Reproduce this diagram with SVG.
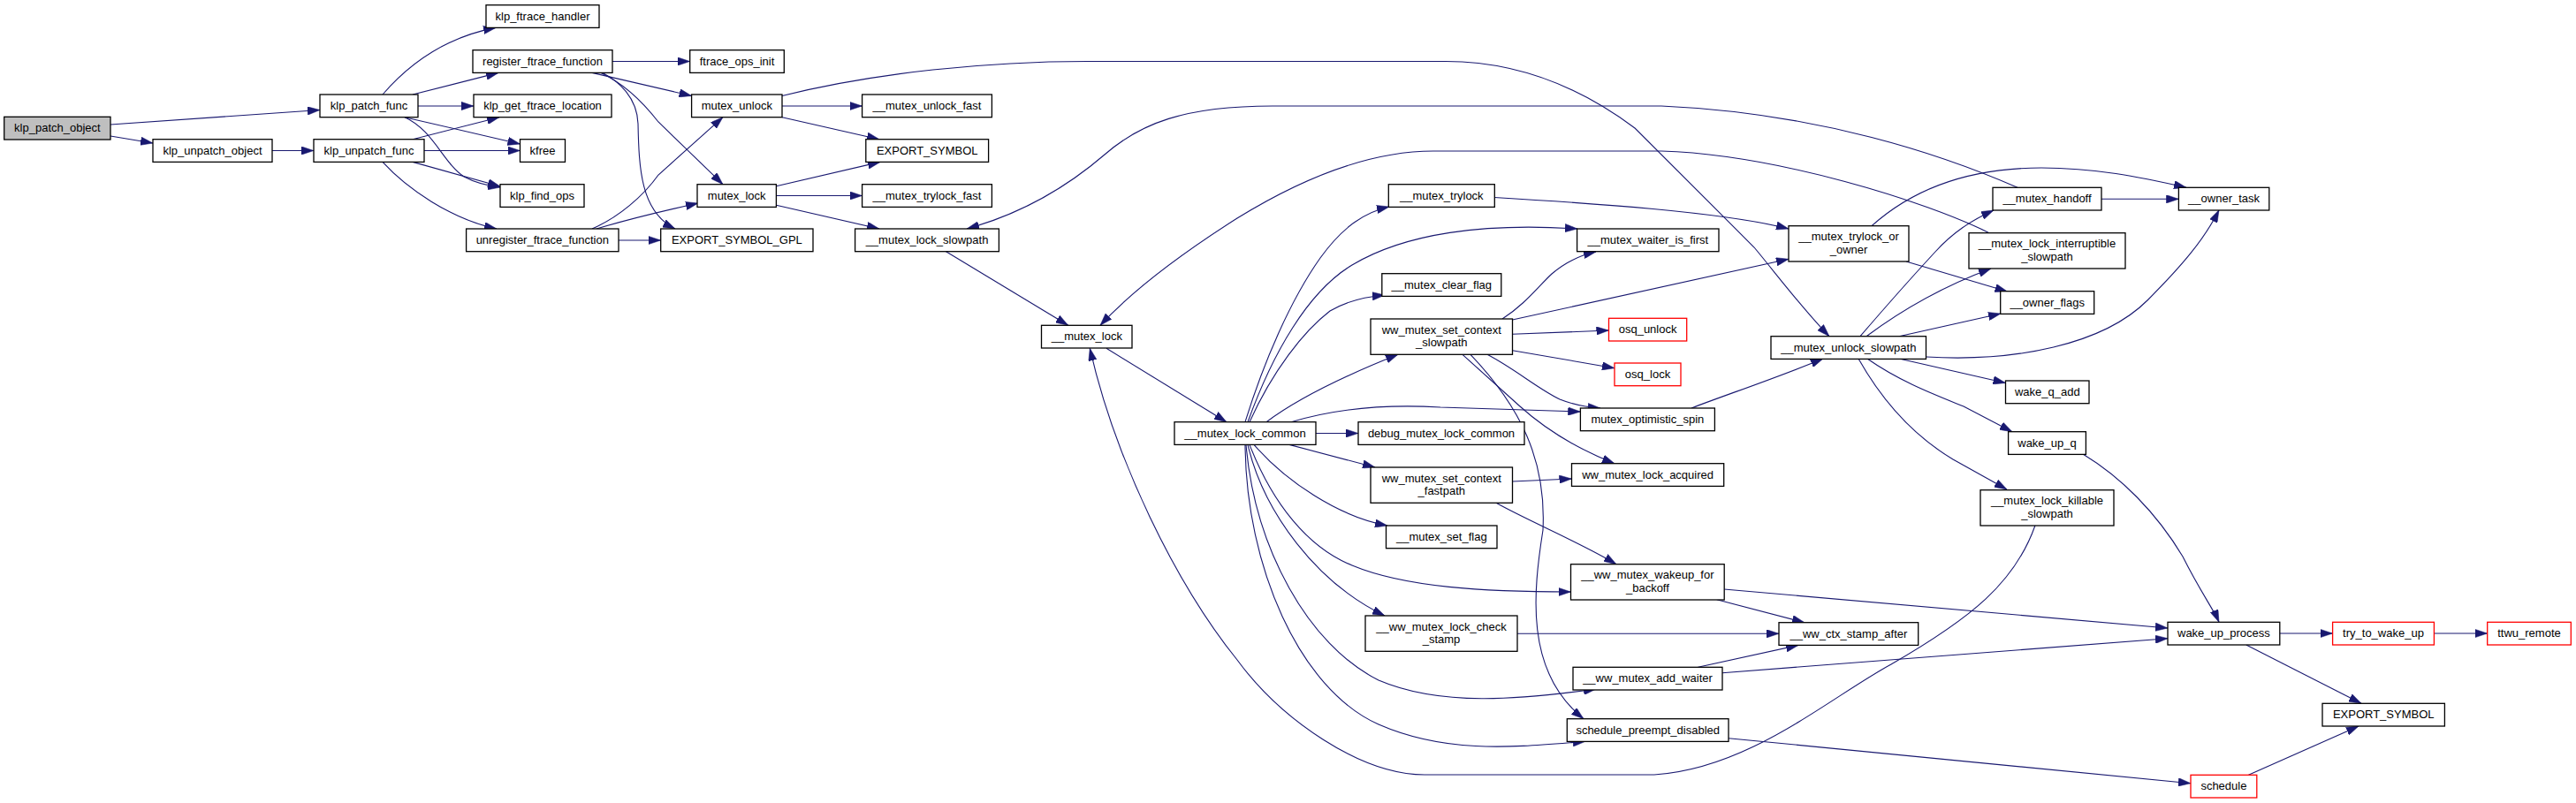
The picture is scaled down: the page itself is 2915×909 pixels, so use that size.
<svg xmlns="http://www.w3.org/2000/svg" width="2915" height="909" viewBox="0 0 2915 909">
<style>
.n rect{fill:#fff;stroke:#000;stroke-width:1.3}
.n.root rect{fill:#bfbfbf}
.n.red rect{stroke:#ff0000}
.n text{font-family:"Liberation Sans",Arial,Helvetica,sans-serif;font-size:13px;text-anchor:middle;fill:#000}
.e path{fill:none;stroke:#191970;stroke-width:1.1;marker-end:url(#ah)}
</style>
<defs>
<marker id="ah" viewBox="0 0 14 9.4" markerUnits="userSpaceOnUse" markerWidth="14" markerHeight="9.4" refX="14" refY="4.7" orient="auto">
<path d="M0,0 L14,4.7 L0,9.4 z" fill="#191970" stroke="#191970" stroke-width="0.5"/>
</marker>
</defs>
<rect width="2915" height="909" fill="#fff"/>
<g id="edges" class="e">
<path d="M125,141 L362,124.5"/>
<path d="M125,154 L173,162"/>
<path d="M308,170.5 L355,170.5"/>
<path d="M433,107 C465,70 505,42 561,31.4"/>
<path d="M467,107 L564,82.4"/>
<path d="M473,120 L536,120"/>
<path d="M458,132.7 L588.5,163"/>
<path d="M458,132.7 C490,147 502,185 525,200 C538,207 550,210 566,212"/>
<path d="M467,157.7 L565,132.7"/>
<path d="M480,170.5 L588.5,170.5"/>
<path d="M467,183.4 L566,211"/>
<path d="M433,183.4 C460,213 510,248 562,259"/>
<path d="M693,69.5 L780.7,69.5"/>
<path d="M670,82.4 L782.6,108.5"/>
<path d="M680,82.4 C705,94 728,116 745,138 L818,208.7"/>
<path d="M682,82.4 C700,92 721,110 722,140 C723,190 725,240 764,259"/>
<path d="M670,259 C700,246 728,222 745,198 L818,132.7"/>
<path d="M675,259 C705,250 745,240 790,230"/>
<path d="M700,272 L747.7,272"/>
<path d="M885,120 L975.6,120"/>
<path d="M885,132.7 L995,157.7"/>
<path d="M885,108.5 C990,82 1120,69.5 1230,69.5 L1636,69.5 C1720,69.5 1790,100 1850,145 L1985,280 C2010,310 2040,350 2070,380.7"/>
<path d="M878.4,210.7 L996,183.4"/>
<path d="M878.4,221.5 L975.6,221.5"/>
<path d="M878.4,232.3 L995,259"/>
<path d="M1070.5,284.7 L1208.7,368.3"/>
<path d="M2283,212.3 C2200,176 2060,128 1880,120 L1440,120 C1340,120 1290,140 1250,175 C1200,218 1145,245 1094,259"/>
<path d="M2251,263.7 C2180,228 2010,175 1880,171 L1622,171 C1540,171 1460,210 1400,247 C1345,282 1285,325 1245,368.3"/>
<path d="M1252,394.3 L1388,477.7"/>
<path d="M2303,594.7 C2280,660 2230,700 2140,752 C2070,790 1980,870 1872,877 L1612,877 C1540,877 1450,815 1400,747 C1330,660 1262,520 1233.3,394.3"/>
<path d="M1711.5,362 L2024,293.3"/>
<path d="M1700,361 C1725,345 1740,325 1756,310 C1772,296 1788,289 1806,285"/>
<path d="M1711.5,378.3 L1820.5,374"/>
<path d="M1711.5,396.7 L1827,416.7"/>
<path d="M1683,401.3 C1715,418 1740,440 1765,452 C1780,458 1795,461 1811,462"/>
<path d="M1655,401.3 L1720,460 C1750,487 1785,508 1827,524.7"/>
<path d="M1664,401.3 C1720,460 1750,520 1746,600 C1735,670 1725,760 1792,813.7"/>
<path d="M1914,462 C1950,448 2010,428 2063,406"/>
<path d="M1409,477.7 C1430,410 1460,340 1494,292 C1520,256 1545,240 1572,234"/>
<path d="M1412,477.7 C1440,400 1480,330 1530,300 C1590,264 1680,252 1785,259"/>
<path d="M1414,477.7 C1440,420 1475,375 1505,352 C1525,340 1545,336 1567,334"/>
<path d="M1433,477.7 C1470,450 1530,422 1582,401.3"/>
<path d="M1461,477.7 C1520,460 1580,458 1630,461 C1700,463 1750,465 1788.4,466"/>
<path d="M1489,490.5 L1537,490.5"/>
<path d="M1459,503.4 L1556,529"/>
<path d="M1419,503.4 C1455,545 1515,585 1570,595"/>
<path d="M1414,503.4 C1440,570 1480,620 1530,640 C1590,665 1680,670 1777.5,670"/>
<path d="M1412,503.4 C1430,580 1490,660 1567,697"/>
<path d="M1410,503.4 C1420,620 1480,730 1560,770 C1630,800 1720,792 1806,780"/>
<path d="M1409,503.4 C1410,640 1470,780 1560,820 C1640,855 1720,845 1794,839.3"/>
<path d="M1711.5,545 L1778.5,542"/>
<path d="M1693,569.3 C1730,590 1790,615 1829,638.7"/>
<path d="M1951,667 L2453,711"/>
<path d="M1942.7,678.7 L2042,704.7"/>
<path d="M1717,717.3 L2013,717.3"/>
<path d="M1921.5,755.3 L2035,730.4"/>
<path d="M1948.8,761.7 L2453,722.7"/>
<path d="M1956,835.7 L2479,886.7"/>
<path d="M2544.4,877.3 L2669,822"/>
<path d="M2541.8,730 L2672,796.3"/>
<path d="M2579.8,717 L2639.6,717"/>
<path d="M2754.4,717 L2814.7,717"/>
<path d="M2357,514 C2400,540 2440,580 2470,630 C2490,670 2505,690 2511,704.3"/>
<path d="M2180,404 C2280,410 2380,390 2430,340 C2470,300 2495,270 2511,237.7"/>
<path d="M2105,380.7 C2140,340 2165,312 2190,285 C2210,263 2230,250 2256,238"/>
<path d="M2112,380.7 C2160,345 2210,320 2253,304"/>
<path d="M2149,380.7 L2264,355"/>
<path d="M2149,406 L2269.5,433.5"/>
<path d="M2113,406 C2150,432 2190,447 2222,460 L2277,488.7"/>
<path d="M2103,406 C2125,445 2160,490 2210,520 L2271,554"/>
<path d="M2378,225.3 L2465.4,225.3"/>
<path d="M2118,255.7 C2160,218 2220,190 2310,190 C2370,190 2420,200 2474,212.3"/>
<path d="M2157,296 L2271.5,330"/>
<path d="M1691,223.5 C1800,230 1950,240 2024,259"/>
</g>
<g id="klp_patch_object" class="n root"><rect x="4.7" y="132.3" width="120.3" height="25.7"/><text x="64.9" y="149.4">klp_patch_object</text></g>
<g id="klp_patch_func" class="n"><rect x="362" y="107" width="111" height="25.7"/><text x="417.5" y="124.1">klp_patch_func</text></g>
<g id="klp_unpatch_object" class="n"><rect x="173" y="157.7" width="135" height="25.7"/><text x="240.5" y="174.8">klp_unpatch_object</text></g>
<g id="klp_unpatch_func" class="n"><rect x="355" y="157.7" width="125" height="25.7"/><text x="417.5" y="174.8">klp_unpatch_func</text></g>
<g id="klp_ftrace_handler" class="n"><rect x="550" y="5.7" width="128" height="25.7"/><text x="614" y="22.8">klp_ftrace_handler</text></g>
<g id="register_ftrace_function" class="n"><rect x="535" y="56.7" width="158" height="25.7"/><text x="614" y="73.8">register_ftrace_function</text></g>
<g id="klp_get_ftrace_location" class="n"><rect x="536" y="107" width="156" height="25.7"/><text x="614" y="124.1">klp_get_ftrace_location</text></g>
<g id="kfree" class="n"><rect x="588.5" y="157.7" width="51" height="25.7"/><text x="614" y="174.8">kfree</text></g>
<g id="klp_find_ops" class="n"><rect x="566" y="208.7" width="95" height="25.7"/><text x="613.5" y="225.8">klp_find_ops</text></g>
<g id="unregister_ftrace_function" class="n"><rect x="527.6" y="259" width="172.4" height="25.7"/><text x="613.8" y="276.1">unregister_ftrace_function</text></g>
<g id="ftrace_ops_init" class="n"><rect x="780.7" y="56.7" width="106.6" height="25.7"/><text x="834" y="73.8">ftrace_ops_init</text></g>
<g id="mutex_unlock" class="n"><rect x="782.6" y="107" width="102.4" height="25.7"/><text x="833.8" y="124.1">mutex_unlock</text></g>
<g id="__mutex_unlock_fast" class="n"><rect x="975.6" y="107" width="146.8" height="25.7"/><text x="1049" y="124.1">__mutex_unlock_fast</text></g>
<g id="EXPORT_SYMBOL_1" class="n"><rect x="979.8" y="157.7" width="138.8" height="25.7"/><text x="1049.2" y="174.8">EXPORT_SYMBOL</text></g>
<g id="mutex_lock" class="n"><rect x="789" y="208.7" width="89.4" height="25.7"/><text x="833.7" y="225.8">mutex_lock</text></g>
<g id="__mutex_trylock_fast" class="n"><rect x="975.6" y="208.7" width="146.8" height="25.7"/><text x="1049" y="225.8">__mutex_trylock_fast</text></g>
<g id="EXPORT_SYMBOL_GPL" class="n"><rect x="747.7" y="259" width="172.3" height="25.7"/><text x="833.9" y="276.1">EXPORT_SYMBOL_GPL</text></g>
<g id="__mutex_lock_slowpath" class="n"><rect x="967.6" y="259" width="162.8" height="25.7"/><text x="1049" y="276.1">__mutex_lock_slowpath</text></g>
<g id="__mutex_lock" class="n"><rect x="1178.5" y="368.3" width="102.5" height="25.7"/><text x="1229.8" y="385.4">__mutex_lock</text></g>
<g id="__mutex_lock_common" class="n"><rect x="1329" y="477.7" width="160" height="25.7"/><text x="1409" y="494.8">__mutex_lock_common</text></g>
<g id="__mutex_trylock" class="n"><rect x="1571.3" y="208.7" width="120" height="25.7"/><text x="1631.3" y="225.8">__mutex_trylock</text></g>
<g id="__mutex_waiter_is_first" class="n"><rect x="1784.6" y="259" width="160.4" height="25.7"/><text x="1864.8" y="276.1">__mutex_waiter_is_first</text></g>
<g id="__mutex_clear_flag" class="n"><rect x="1563.8" y="309.7" width="135" height="25.7"/><text x="1631.3" y="326.8">__mutex_clear_flag</text></g>
<g id="ww_mutex_set_context_slowpath" class="n"><rect x="1551" y="361" width="160.5" height="40.3"/><text x="1631.3" y="377.7">ww_mutex_set_context</text><text x="1631.3" y="392.2">_slowpath</text></g>
<g id="osq_unlock" class="n red"><rect x="1820.5" y="360.3" width="88.2" height="25.7"/><text x="1864.6" y="377.4">osq_unlock</text></g>
<g id="osq_lock" class="n red"><rect x="1827" y="411" width="75" height="25.7"/><text x="1864.5" y="428.1">osq_lock</text></g>
<g id="mutex_optimistic_spin" class="n"><rect x="1788.4" y="462" width="152" height="25.7"/><text x="1864.4" y="479.1">mutex_optimistic_spin</text></g>
<g id="debug_mutex_lock_common" class="n"><rect x="1537" y="477.7" width="188" height="25.7"/><text x="1631" y="494.8">debug_mutex_lock_common</text></g>
<g id="ww_mutex_lock_acquired" class="n"><rect x="1778.5" y="524.7" width="172.2" height="25.7"/><text x="1864.6" y="541.8">ww_mutex_lock_acquired</text></g>
<g id="ww_mutex_set_context_fastpath" class="n"><rect x="1551" y="529" width="160.5" height="40.3"/><text x="1631.3" y="545.7">ww_mutex_set_context</text><text x="1631.3" y="560.2">_fastpath</text></g>
<g id="__mutex_set_flag" class="n"><rect x="1568.5" y="595" width="125.5" height="25.7"/><text x="1631.3" y="612.1">__mutex_set_flag</text></g>
<g id="__ww_mutex_wakeup_for_backoff" class="n"><rect x="1777.5" y="638.7" width="173.7" height="40.3"/><text x="1864.4" y="655.4">__ww_mutex_wakeup_for</text><text x="1864.4" y="669.9">_backoff</text></g>
<g id="__ww_mutex_lock_check_stamp" class="n"><rect x="1545" y="697" width="172" height="40.3"/><text x="1631" y="713.7">__ww_mutex_lock_check</text><text x="1631" y="728.2">_stamp</text></g>
<g id="__ww_ctx_stamp_after" class="n"><rect x="2013" y="704.7" width="157.7" height="25.7"/><text x="2091.9" y="721.8">__ww_ctx_stamp_after</text></g>
<g id="__ww_mutex_add_waiter" class="n"><rect x="1780" y="755.3" width="169" height="25.7"/><text x="1864.5" y="772.4">__ww_mutex_add_waiter</text></g>
<g id="schedule_preempt_disabled" class="n"><rect x="1773.3" y="813.7" width="182.7" height="25.7"/><text x="1864.7" y="830.8">schedule_preempt_disabled</text></g>
<g id="__mutex_trylock_or_owner" class="n"><rect x="2024" y="255.7" width="136" height="40.3"/><text x="2092" y="272.4">__mutex_trylock_or</text><text x="2092" y="286.9">_owner</text></g>
<g id="__mutex_unlock_slowpath" class="n"><rect x="2004" y="380.7" width="175.5" height="25.7"/><text x="2091.8" y="397.8">__mutex_unlock_slowpath</text></g>
<g id="__mutex_handoff" class="n"><rect x="2255" y="212.3" width="123" height="25.7"/><text x="2316.5" y="229.4">__mutex_handoff</text></g>
<g id="__owner_task" class="n"><rect x="2465.4" y="212.3" width="102.4" height="25.7"/><text x="2516.6" y="229.4">__owner_task</text></g>
<g id="__mutex_lock_interruptible_slowpath" class="n"><rect x="2228" y="263.7" width="177" height="40.3"/><text x="2316.5" y="280.4">__mutex_lock_interruptible</text><text x="2316.5" y="294.9">_slowpath</text></g>
<g id="__owner_flags" class="n"><rect x="2263.7" y="329.7" width="106" height="25.7"/><text x="2316.7" y="346.8">__owner_flags</text></g>
<g id="wake_q_add" class="n"><rect x="2269.5" y="431" width="94.5" height="25.7"/><text x="2316.8" y="448.1">wake_q_add</text></g>
<g id="wake_up_q" class="n"><rect x="2272.6" y="488.7" width="87.8" height="25.7"/><text x="2316.5" y="505.8">wake_up_q</text></g>
<g id="__mutex_lock_killable_slowpath" class="n"><rect x="2241" y="554.7" width="151" height="40.3"/><text x="2316.5" y="571.4">__mutex_lock_killable</text><text x="2316.5" y="585.9">_slowpath</text></g>
<g id="wake_up_process" class="n"><rect x="2453" y="704.3" width="126.8" height="25.7"/><text x="2516.4" y="721.4">wake_up_process</text></g>
<g id="try_to_wake_up" class="n red"><rect x="2639.6" y="704.3" width="114.8" height="25.7"/><text x="2697" y="721.4">try_to_wake_up</text></g>
<g id="ttwu_remote" class="n red"><rect x="2814.7" y="704.3" width="94.6" height="25.7"/><text x="2862" y="721.4">ttwu_remote</text></g>
<g id="EXPORT_SYMBOL_2" class="n"><rect x="2628" y="796.3" width="138.4" height="25.7"/><text x="2697.2" y="813.4">EXPORT_SYMBOL</text></g>
<g id="schedule" class="n red"><rect x="2479" y="877.3" width="74.8" height="25.7"/><text x="2516.4" y="894.4">schedule</text></g>
</svg>
